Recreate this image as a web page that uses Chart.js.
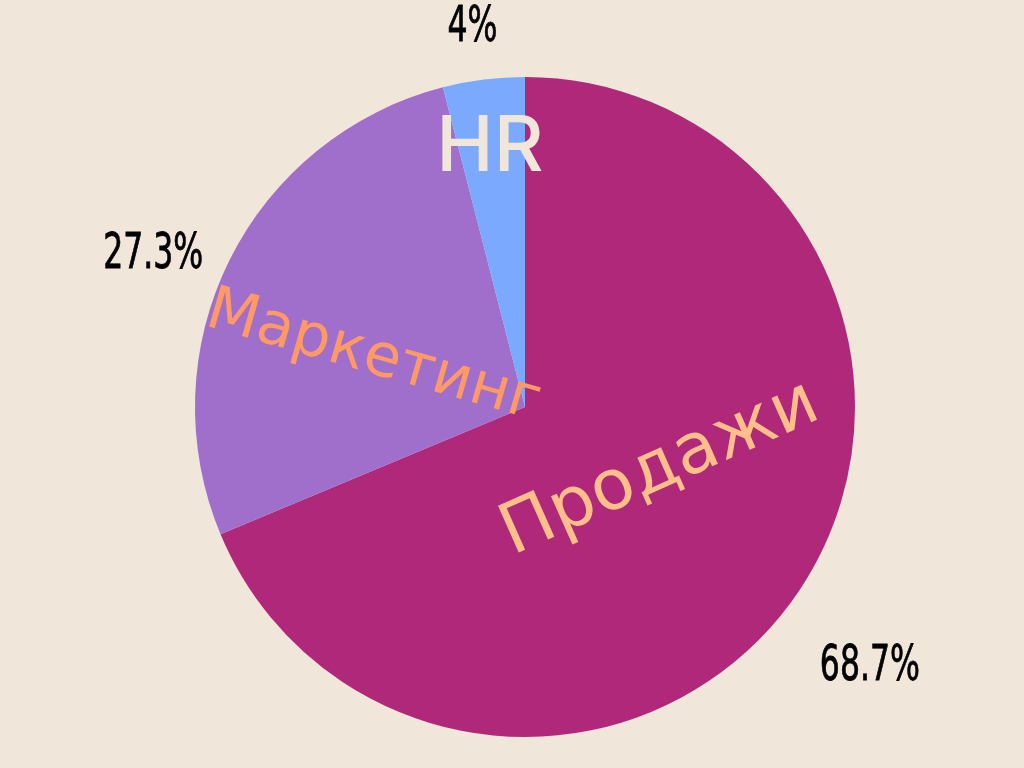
<!DOCTYPE html>
<html>
<head>
<meta charset="utf-8">
<script src="https://cdn.jsdelivr.net/npm/chart.js@4"></script>
<style>
  html, body { margin: 0; padding: 0; background: #f0e6d9; }
  #wrap { width: 1024px; height: 768px; }
</style>
</head>
<body>
<div id="wrap"><canvas id="pieChart"></canvas></div>
<script>
const categories = ["Продажи", "Маркетинг", "HR"];
const shares = [68.7, 27.3, 4];
const percentLabels = ["68.7%", "27.3%", "4%"];

const sliceColors = ["#b0287a", "#a06ecb", "#7aa9fe"];

// inner label look, one per slice
const innerStyle = [
  { font: "70px 'DejaVu Sans'", color: "#ffbf8a", r: 0.5, dx: -2, dy: -29, rot: -24 },
  { font: "60px 'DejaVu Sans'", color: "#ff9966", r: 0.5, dx: -4, dy: 24, rot: 16 },
  { font: "500 77px Inter", color: "#f0e6d9", r: 0.8, dx: -2, dy: 3, rot: 0 }
];
// outer percentage labels
const outerStyle = [
  { dx: 29, dy: 50 },
  { dx: -32, dy: 17 },
  { dx: -5, dy: -2 }
];

const sliceLabels = {
  id: "sliceLabels",
  afterDatasetsDraw(chart) {
    const ctx = chart.ctx;
    const arcs = chart.getDatasetMeta(0).data;
    arcs.forEach((arc, i) => {
      const { x, y, startAngle, endAngle, outerRadius } = arc.getProps(
        ["x", "y", "startAngle", "endAngle", "outerRadius"], true);
      const mid = (startAngle + endAngle) / 2;

      // name inside the slice
      const s = innerStyle[i];
      const ix = x + Math.cos(mid) * outerRadius * s.r + s.dx;
      const iy = y + Math.sin(mid) * outerRadius * s.r + s.dy;
      ctx.save();
      ctx.translate(ix, iy);
      ctx.rotate(s.rot * Math.PI / 180);
      ctx.font = s.font;
      ctx.fillStyle = s.color;
      ctx.textAlign = "center";
      ctx.textBaseline = "middle";
      ctx.fillText(categories[i], 0, 0);
      ctx.restore();

      // percentage outside
      const o = outerStyle[i];
      const ox = x + Math.cos(mid) * outerRadius * 1.15 + o.dx;
      const oy = y + Math.sin(mid) * outerRadius * 1.15 + o.dy;
      ctx.save();
      ctx.translate(ox, oy);
      ctx.scale(0.7, 1);
      ctx.font = "50px 'Liberation Sans Narrow', 'DejaVu Sans Condensed', sans-serif";
      ctx.fillStyle = "#000";
      ctx.strokeStyle = "#000";
      ctx.lineWidth = 0.8;
      ctx.textAlign = "center";
      ctx.textBaseline = "middle";
      ctx.fillText(percentLabels[i], 0, 0);
      ctx.strokeText(percentLabels[i], 0, 0);
      ctx.restore();
    });
  }
};

const ctx = document.getElementById("pieChart").getContext("2d");

new Chart(ctx, {
  type: "pie",
  data: {
    labels: categories,
    datasets: [{
      data: shares,
      backgroundColor: sliceColors,
      borderWidth: 0
    }]
  },
  options: {
    responsive: true,
    maintainAspectRatio: false,
    animation: false,
    layout: { padding: { top: 77, bottom: 31, left: 26, right: 0 } },
    plugins: {
      legend: { display: false },
      tooltip: { enabled: false }
    }
  },
  plugins: [sliceLabels]
});
</script>
</body>
</html>
